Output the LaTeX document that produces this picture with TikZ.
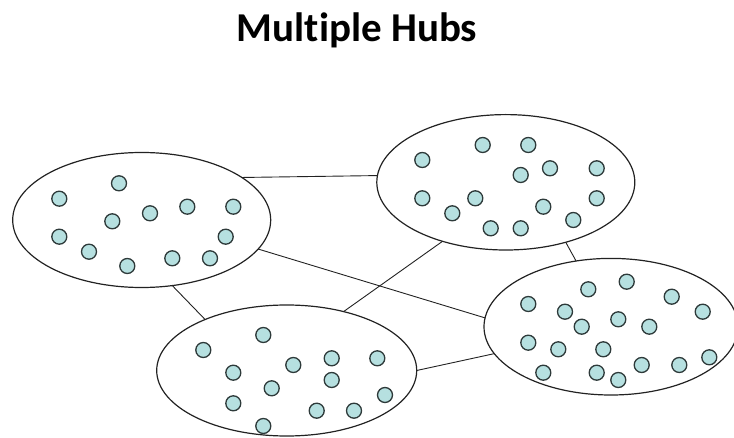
\documentclass[tikz,border=0pt]{standalone}
\usepackage{fontspec}
\setmainfont{Carlito}[Ligatures=NoCommon]
\usetikzlibrary{shapes.geometric}
\definecolor{dotfill}{HTML}{B6E0E0}
\definecolor{dotline}{HTML}{2E3A3A}
\definecolor{edge}{HTML}{222222}
\begin{document}
\begin{tikzpicture}[x=1pt,y=-1pt,
  hub/.style={draw=edge, line width=1.2pt, ellipse, inner sep=0pt, outer sep=0pt},
  dot/.style={circle, draw=dotline, fill=dotfill, line width=1.3pt, inner sep=0pt, minimum size=15pt},
  link/.style={draw=edge, line width=0.9pt}]
\useasboundingbox (0,0) rectangle (734,438);
\node[font=\bfseries\fontsize{41}{44}\selectfont, anchor=base, inner sep=0pt] (title) at (357,42) {Multiple Hubs};
% hubs
\node[hub, minimum width=258pt, minimum height=135pt] (h1) at (141.7,220) {};
\node[hub, minimum width=258pt, minimum height=135.4pt] (h2) at (505.8,182.3) {};
\node[hub, minimum width=260pt, minimum height=131pt] (h3) at (286.7,370.5) {};
\node[hub, minimum width=254pt, minimum height=136.6pt] (h4) at (611,326.7) {};
% links
\draw[link] (h1.23.75) -- (h2.177.2);
\draw[link] (h1.-14.6) -- (h4.176.2);
\draw[link] (h1.-65.2) -- (h3.148.8);
\draw[link] (h2.-137.9) -- (h3.46.9);
\draw[link] (h2.-45.9) -- (h4.118.9);
\draw[link] (h3.-0.5) -- (h4.193.9);
% dots hub 1
\foreach \x/\y [count=\i] in {119/183.3, 59.3/198.7, 187.3/206.7, 233.3/206.7, 150/213.3, 112.3/221.3, 59.3/236.7, 225.7/236.7, 89/251.7, 172.3/258.3, 210/258.3, 127.3/266}
  \node[dot] (a\i) at (\x,\y) {};
% dots hub 2
\foreach \x/\y [count=\i] in {482.7/145, 528.3/145, 422.3/160, 550/168.3, 596.7/168.3, 520.7/175, 422.3/198.3, 475.3/198.3, 596.7/198.3, 543.3/206.7, 452.3/213.3, 573.3/220, 490.7/228.3, 520.7/228.3}
  \node[dot] (b\i) at (\x,\y) {};
% dots hub 3
\foreach \x/\y [count=\i] in {263.3/335, 203.3/350, 331.7/358.3, 377.3/358.3, 293.3/365, 233.3/372.7, 331.7/380, 271.7/388.3, 385/395, 233.3/403.3, 316.7/410.7, 354/410.7, 263.3/426}
  \node[dot] (c\i) at (\x,\y) {};
% dots hub 4
\foreach \x/\y [count=\i] in {626.7/281.7, 588.3/289.3, 671.7/296.7, 528.3/304, 565/311.7, 702.7/311.7, 618.3/319.3, 581.7/326.7, 649.3/326.7, 528.3/342.7, 558.3/349.3, 603.3/349.3, 709.3/357.3, 641.7/365, 679.3/365, 543.3/372.7, 596.7/372.7, 618.3/380}
  \node[dot] (e\i) at (\x,\y) {};
\end{tikzpicture}
\end{document}
